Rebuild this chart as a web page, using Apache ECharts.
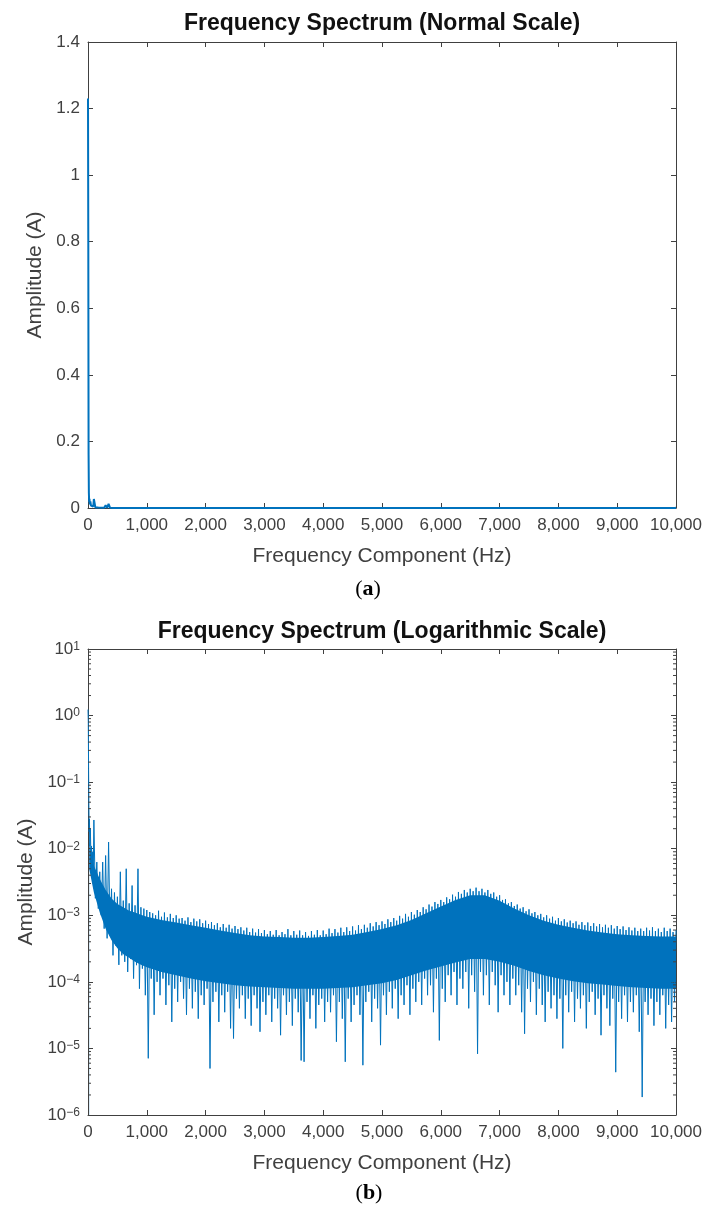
<!DOCTYPE html>
<html>
<head>
<meta charset="utf-8">
<script src="https://cdn.jsdelivr.net/npm/echarts@6/dist/echarts.min.js"></script>
<style>
  html, body { margin: 0; padding: 0; background: #fff; }
  #chart { width: 705px; height: 1207px; }
</style>
</head>
<body>
<div id="chart"></div>
<script>
// spectrum samples (Hz, A)
const freqHz = [
  0, 5, 10, 15, 20, 25, 30, 40, 50, 60, 70, 80, 90,
  100, 125, 150, 175, 200, 225, 250, 275, 300, 325, 350, 375, 400, 425, 450, 475, 500, 525, 550, 575,
  600, 625, 650, 675, 700, 725, 750, 775, 800, 825, 850, 875, 900, 925, 950, 975, 1000, 1025, 1050, 1075,
  1100, 1125, 1150, 1175, 1200, 1225, 1250, 1275, 1300, 1325, 1350, 1375, 1400, 1425, 1450, 1475, 1500, 1525, 1550, 1575,
  1600, 1625, 1650, 1675, 1700, 1725, 1750, 1775, 1800, 1825, 1850, 1875, 1900, 1925, 1950, 1975, 2000, 2025, 2050, 2075,
  2100, 2125, 2150, 2175, 2200, 2225, 2250, 2275, 2300, 2325, 2350, 2375, 2400, 2425, 2450, 2475, 2500, 2525, 2550, 2575,
  2600, 2625, 2650, 2675, 2700, 2725, 2750, 2775, 2800, 2825, 2850, 2875, 2900, 2925, 2950, 2975, 3000, 3025, 3050, 3075,
  3100, 3125, 3150, 3175, 3200, 3225, 3250, 3275, 3300, 3325, 3350, 3375, 3400, 3425, 3450, 3475, 3500, 3525, 3550, 3575,
  3600, 3625, 3650, 3675, 3700, 3725, 3750, 3775, 3800, 3825, 3850, 3875, 3900, 3925, 3950, 3975, 4000, 4025, 4050, 4075,
  4100, 4125, 4150, 4175, 4200, 4225, 4250, 4275, 4300, 4325, 4350, 4375, 4400, 4425, 4450, 4475, 4500, 4525, 4550, 4575,
  4600, 4625, 4650, 4675, 4700, 4725, 4750, 4775, 4800, 4825, 4850, 4875, 4900, 4925, 4950, 4975, 5000, 5025, 5050, 5075,
  5100, 5125, 5150, 5175, 5200, 5225, 5250, 5275, 5300, 5325, 5350, 5375, 5400, 5425, 5450, 5475, 5500, 5525, 5550, 5575,
  5600, 5625, 5650, 5675, 5700, 5725, 5750, 5775, 5800, 5825, 5850, 5875, 5900, 5925, 5950, 5975, 6000, 6025, 6050, 6075,
  6100, 6125, 6150, 6175, 6200, 6225, 6250, 6275, 6300, 6325, 6350, 6375, 6400, 6425, 6450, 6475, 6500, 6525, 6550, 6575,
  6600, 6625, 6650, 6675, 6700, 6725, 6750, 6775, 6800, 6825, 6850, 6875, 6900, 6925, 6950, 6975, 7000, 7025, 7050, 7075,
  7100, 7125, 7150, 7175, 7200, 7225, 7250, 7275, 7300, 7325, 7350, 7375, 7400, 7425, 7450, 7475, 7500, 7525, 7550, 7575,
  7600, 7625, 7650, 7675, 7700, 7725, 7750, 7775, 7800, 7825, 7850, 7875, 7900, 7925, 7950, 7975, 8000, 8025, 8050, 8075,
  8100, 8125, 8150, 8175, 8200, 8225, 8250, 8275, 8300, 8325, 8350, 8375, 8400, 8425, 8450, 8475, 8500, 8525, 8550, 8575,
  8600, 8625, 8650, 8675, 8700, 8725, 8750, 8775, 8800, 8825, 8850, 8875, 8900, 8925, 8950, 8975, 9000, 9025, 9050, 9075,
  9100, 9125, 9150, 9175, 9200, 9225, 9250, 9275, 9300, 9325, 9350, 9375, 9400, 9425, 9450, 9475, 9500, 9525, 9550, 9575,
  9600, 9625, 9650, 9675, 9700, 9725, 9750, 9775, 9800, 9825, 9850, 9875, 9900, 9925, 9950, 9975, 10000
];
const ampA = [
  1.23, 0.81, 0.16, 0.045, 0.018, 0.028, 0.011, 0.02, 0.0075, 0.011, 0.0055, 0.009, 0.0045,
  2.7e-2, 1.8e-3, 6.3e-3, 1.26e-3, 4.5e-3, 1.0e-3, 6.3e-3, 6.3e-4, 7.9e-3, 4.5e-4, 1.26e-2, 5.0e-4, 2.5e-3, 2.5e-4, 2.2e-3, 3.5e-4, 1.9e-3, 1.8e-4, 4.5e-3, 2.5e-4,
  1.66e-3, 2.0e-4, 5.0e-3, 1.41e-4, 1.51e-3, 2.2e-4, 2.8e-3, 1.12e-4, 1.41e-3, 1.78e-4, 5.0e-3, 7.9e-5, 1.32e-3, 1.58e-4, 1.26e-3, 6.3e-5, 1.2e-3, 7.1e-6, 1.12e-3, 1.12e-4,
  1.07e-3, 3.2e-5, 1.0e-3, 1.0e-4, 1.17e-3, 6.3e-5, 9.5e-4, 1.12e-4, 1.1e-3, 4.5e-5, 9.3e-4, 8.9e-5, 1.05e-3, 2.5e-5, 9.1e-4, 7.9e-5, 1.0e-3, 5.0e-5, 8.9e-4, 1.0e-4,
  9.1e-4, 5.6e-5, 8.3e-4, 3.2e-5, 9.3e-4, 7.9e-5, 7.9e-4, 4.0e-5, 8.9e-4, 7.1e-5, 8.1e-4, 2.8e-5, 8.7e-4, 6.3e-5, 7.6e-4, 4.5e-5, 8.3e-4, 7.9e-5, 7.4e-4, 5.0e-6,
  7.9e-4, 5.0e-5, 7.1e-4, 7.1e-5, 7.6e-4, 2.5e-5, 6.6e-4, 6.3e-5, 7.4e-4, 3.5e-5, 6.5e-4, 7.1e-5, 7.2e-4, 2.0e-5, 6.3e-4, 1.41e-5, 6.9e-4, 5.6e-5, 6.2e-4, 4.0e-5,
  6.6e-4, 6.3e-5, 5.9e-4, 2.8e-5, 6.5e-4, 5.6e-5, 5.6e-4, 2.2e-5, 6.3e-4, 6.3e-5, 5.5e-4, 4.0e-5, 6.2e-4, 1.78e-5, 5.4e-4, 5.0e-5, 6.0e-4, 3.2e-5, 5.2e-4, 6.3e-5,
  5.8e-4, 2.5e-5, 5.1e-4, 5.6e-5, 6.0e-4, 4.0e-5, 5.0e-4, 1.58e-5, 5.6e-4, 6.3e-5, 5.2e-4, 3.2e-5, 6.2e-4, 5.0e-5, 5.0e-4, 2.2e-5, 5.8e-4, 5.6e-5, 5.1e-4, 3.5e-5,
  5.9e-4, 6.6e-6, 5.0e-4, 6.3e-6, 5.6e-4, 5.0e-5, 4.9e-4, 2.8e-5, 5.8e-4, 6.3e-5, 5.1e-4, 2.0e-5, 6.0e-4, 4.5e-5, 5.0e-4, 5.6e-5, 5.9e-4, 2.5e-5, 5.2e-4, 5.0e-5,
  6.3e-4, 3.5e-5, 5.4e-4, 6.3e-5, 6.2e-4, 1.26e-5, 5.5e-4, 5.0e-5, 6.5e-4, 2.8e-5, 5.6e-4, 6.3e-6, 6.6e-4, 5.6e-5, 5.8e-4, 2.5e-5, 6.8e-4, 4.5e-5, 5.9e-4, 6.3e-5,
  7.1e-4, 3.2e-5, 6.2e-4, 5.6e-6, 7.2e-4, 5.0e-5, 6.5e-4, 7.1e-5, 7.6e-4, 2.5e-5, 6.8e-4, 5.6e-5, 7.9e-4, 4.0e-5, 7.1e-4, 1.12e-5, 8.1e-4, 6.3e-5, 7.4e-4, 3.2e-5,
  8.7e-4, 7.1e-5, 7.9e-4, 4.0e-5, 9.1e-4, 7.9e-5, 8.3e-4, 2.8e-5, 9.8e-4, 6.3e-5, 8.9e-4, 4.5e-5, 1.05e-3, 8.9e-5, 9.5e-4, 3.2e-5, 1.12e-3, 7.9e-5, 1.02e-3, 5.0e-5,
  1.2e-3, 1.0e-4, 1.12e-3, 4.5e-5, 1.32e-3, 1.12e-4, 1.23e-3, 6.3e-5, 1.45e-3, 8.9e-5, 1.35e-3, 3.5e-5, 1.58e-3, 1.12e-4, 1.48e-3, 1.32e-5, 1.7e-3, 7.9e-5, 1.58e-3, 5.0e-5,
  1.86e-3, 1.26e-4, 1.74e-3, 6.3e-5, 2.04e-3, 1.41e-4, 1.9e-3, 4.5e-5, 2.24e-3, 1.12e-4, 2.1e-3, 7.9e-5, 2.4e-3, 1.41e-4, 2.2e-3, 4.0e-5, 2.5e-3, 1.26e-4, 2.3e-3, 7.1e-5,
  2.6e-3, 8.3e-6, 2.3e-3, 1.41e-4, 2.5e-3, 6.3e-5, 2.2e-3, 1.26e-4, 2.4e-3, 4.5e-5, 2.1e-3, 1.41e-4, 2.2e-3, 8.9e-5, 1.9e-3, 3.5e-5, 2.0e-3, 1.26e-4, 1.7e-3, 6.3e-5,
  1.74e-3, 1.0e-4, 1.51e-3, 4.5e-5, 1.58e-3, 1.12e-4, 1.38e-3, 6.3e-5, 1.45e-3, 8.9e-5, 1.26e-3, 3.5e-5, 1.32e-3, 1.66e-5, 1.15e-3, 7.9e-5, 1.23e-3, 5.0e-5, 1.07e-3, 1.0e-4,
  1.12e-3, 3.2e-5, 1.0e-3, 7.9e-5, 1.05e-3, 4.5e-5, 9.3e-4, 2.5e-5, 1.0e-3, 7.1e-5, 8.9e-4, 4.0e-5, 9.5e-4, 6.3e-5, 8.3e-4, 2.8e-5, 9.1e-4, 5.6e-5, 8.1e-4, 1.0e-5,
  8.7e-4, 6.3e-5, 7.8e-4, 3.5e-5, 8.3e-4, 7.1e-5, 7.6e-4, 2.5e-5, 8.1e-4, 5.6e-5, 7.2e-4, 4.0e-5, 7.9e-4, 6.3e-5, 7.1e-4, 2.0e-5, 7.8e-4, 5.0e-5, 6.9e-4, 7.1e-5,
  7.6e-4, 3.2e-5, 6.8e-4, 5.6e-5, 7.4e-4, 1.58e-5, 6.6e-4, 6.3e-5, 7.2e-4, 4.0e-5, 6.5e-4, 2.2e-5, 7.1e-4, 5.6e-5, 6.3e-4, 4.4e-6, 6.9e-4, 5.0e-5, 6.2e-4, 2.8e-5,
  6.8e-4, 6.3e-5, 6.0e-4, 2.5e-5, 6.6e-4, 5.0e-5, 5.9e-4, 3.5e-5, 6.5e-4, 6.3e-5, 5.8e-4, 1.78e-5, 6.3e-4, 1.86e-6, 5.8e-4, 5.0e-5, 6.5e-4, 3.2e-5, 5.9e-4, 5.6e-5,
  6.6e-4, 2.2e-5, 5.8e-4, 5.0e-5, 6.3e-4, 3.2e-5, 5.6e-4, 6.3e-5, 6.5e-4, 2.0e-5, 5.8e-4, 4.5e-5, 6.3e-4, 2.5e-5, 5.6e-4, 5.0e-5, 6.0e-4
];

// solid core of the noise band on the log plot (upper / lower edge)
const bandFreq = [
  20, 100, 200, 300, 400, 500, 600, 700, 800, 900, 1000,
  1250, 1500, 1750, 2000, 2250, 2500, 2750, 3000, 3250, 3500, 3750, 4000, 4250, 4500, 4750, 5000,
  5250, 5500, 5750, 6000, 6250, 6500, 6750, 7000, 7250, 7500, 7750, 8000, 8250, 8500, 8750, 9000, 9250, 9500, 9750, 10000
];
const bandTop = [
  1.26e-2, 5.6e-3, 3.5e-3, 2.4e-3, 1.78e-3, 1.48e-3, 1.32e-3, 1.17e-3, 1.1e-3, 1.02e-3, 9.5e-4,
  8.5e-4, 7.8e-4, 7.1e-4, 6.5e-4, 5.9e-4, 5.4e-4, 5.0e-4, 4.8e-4, 4.7e-4, 4.6e-4, 4.6e-4, 4.7e-4, 4.9e-4, 5.1e-4, 5.6e-4, 6.2e-4,
  7.1e-4, 8.5e-4, 1.07e-3, 1.35e-3, 1.7e-3, 2.0e-3, 2.0e-3, 1.66e-3, 1.26e-3, 1.0e-3, 8.3e-4, 7.2e-4, 6.5e-4, 5.9e-4, 5.5e-4, 5.2e-4, 5.0e-4, 4.9e-4, 4.8e-4, 4.8e-4
];
const bandBottom = [
  5.0e-3, 2.2e-3, 1.1e-3, 6.3e-4, 4.2e-4, 3.2e-4, 2.6e-4, 2.3e-4, 2.0e-4, 1.8e-4, 1.66e-4,
  1.41e-4, 1.26e-4, 1.12e-4, 1.02e-4, 9.5e-5, 8.9e-5, 8.5e-5, 8.3e-5, 8.1e-5, 7.9e-5, 7.9e-5, 7.9e-5, 8.1e-5, 8.3e-5, 8.9e-5, 9.5e-5,
  1.07e-4, 1.26e-4, 1.48e-4, 1.7e-4, 1.95e-4, 2.2e-4, 2.2e-4, 2.0e-4, 1.74e-4, 1.45e-4, 1.26e-4, 1.12e-4, 1.02e-4, 9.5e-5, 9.1e-5, 8.7e-5, 8.3e-5, 8.1e-5, 7.9e-5, 7.9e-5
];

// minor ticks of the log axis
const minorTicks = [
  2e-6, 3e-6, 4e-6, 5e-6, 6e-6, 7e-6, 8e-6, 9e-6,
  2e-5, 3e-5, 4e-5, 5e-5, 6e-5, 7e-5, 8e-5, 9e-5,
  2e-4, 3e-4, 4e-4, 5e-4, 6e-4, 7e-4, 8e-4, 9e-4,
  2e-3, 3e-3, 4e-3, 5e-3, 6e-3, 7e-3, 8e-3, 9e-3,
  0.02, 0.03, 0.04, 0.05, 0.06, 0.07, 0.08, 0.09,
  0.2, 0.3, 0.4, 0.5, 0.6, 0.7, 0.8, 0.9,
  2, 3, 4, 5, 6, 7, 8, 9
];

const FONT = '"Liberation Sans", Arial, Helvetica, sans-serif';
const SERIF = '"Liberation Serif", "Times New Roman", serif';
const AXIS = '#404040';
const BLUE = '#0072BD';

const spectrum = freqHz.map((f, i) => [f, ampA[i]]);

const xAxisCommon = (gridIndex, position) => ({
  type: 'value',
  gridIndex,
  position,
  min: 0,
  max: 10000,
  interval: 1000,
  z: 3,
  axisLine: { show: true, onZero: false, lineStyle: { color: AXIS, width: 1 } },
  axisTick: { show: true, inside: true, length: 5, lineStyle: { color: AXIS } },
  splitLine: { show: false },
  axisLabel: position === 'bottom'
    ? { show: true, margin: 9, color: AXIS, fontSize: 17, fontFamily: FONT, formatter: (v) => v.toLocaleString('en-US') }
    : { show: false },
  name: position === 'bottom' ? 'Frequency Component (Hz)' : '',
  nameLocation: 'middle',
  nameGap: 38,
  nameTextStyle: { color: AXIS, fontSize: 21, fontFamily: FONT }
});

const yAxisCommon = (gridIndex, position, type) => ({
  type,
  gridIndex,
  position,
  z: 3,
  axisLine: { show: true, onZero: false, lineStyle: { color: AXIS } },
  axisTick: { show: true, inside: true, length: 5, lineStyle: { color: AXIS } },
  splitLine: { show: false },
  name: position === 'left' ? 'Amplitude (A)' : '',
  nameLocation: 'middle',
  nameGap: 40,
  nameTextStyle: { color: AXIS, fontSize: 21, fontFamily: FONT }
});

const logLabel = {
  show: true,
  margin: 8,
  formatter: (v) => {
    const e = Math.round(Math.log10(v));
    return `{b|10}{s|${e < 0 ? '\u2212' + -e : e}}`;
  },
  rich: {
    b: { fontSize: 17, fontFamily: FONT, color: AXIS, lineHeight: 17, verticalAlign: 'bottom' },
    s: { fontSize: 12, fontFamily: FONT, color: AXIS, lineHeight: 12, verticalAlign: 'top', padding: [0, 0, 10, 0] }
  }
};

const chart = echarts.init(document.getElementById('chart'), null, { renderer: 'canvas' });

chart.setOption({
  animation: false,
  backgroundColor: '#ffffff',
  grid: [
    { left: 88, top: 42, width: 588, height: 466, containLabel: false, outerBoundsMode: 'none' },
    { left: 88, top: 649, width: 588, height: 466, containLabel: false, outerBoundsMode: 'none' }
  ],
  xAxis: [
    xAxisCommon(0, 'bottom'),
    xAxisCommon(0, 'top'),
    xAxisCommon(1, 'bottom'),
    xAxisCommon(1, 'top')
  ],
  yAxis: [
    { ...yAxisCommon(0, 'left', 'value'), min: 0, max: 1.4, interval: 0.2,
      axisLabel: { show: true, margin: 8, color: AXIS, fontSize: 17, fontFamily: FONT } },
    { ...yAxisCommon(0, 'right', 'value'), min: 0, max: 1.4, interval: 0.2, axisLabel: { show: false } },
    { ...yAxisCommon(1, 'left', 'log'), logBase: 10, min: 1e-6, max: 10, splitNumber: 7, axisLabel: logLabel },
    { ...yAxisCommon(1, 'right', 'log'), logBase: 10, min: 1e-6, max: 10, splitNumber: 7, axisLabel: { show: false } }
  ],
  series: [
    {
      // same samples on the linear panel: only the DC spike stands out
      type: 'line', xAxisIndex: 0, yAxisIndex: 0, data: spectrum, silent: true,
      showSymbol: false, z: 4, lineStyle: { color: BLUE, width: 2 }
    },
    {
      type: 'line', xAxisIndex: 2, yAxisIndex: 2, silent: true, z: 1,
      data: bandFreq.map((f, i) => [f, bandTop[i]]),
      showSymbol: false, lineStyle: { width: 0, opacity: 0 },
      areaStyle: { color: BLUE, opacity: 1, origin: 'start' }
    },
    {
      type: 'line', xAxisIndex: 2, yAxisIndex: 2, silent: true, z: 2,
      data: bandFreq.map((f, i) => [f, bandBottom[i]]),
      showSymbol: false, lineStyle: { width: 0, opacity: 0 },
      areaStyle: { color: '#ffffff', opacity: 1, origin: 'start' }
    },
    {
      type: 'line', xAxisIndex: 2, yAxisIndex: 2, data: spectrum, silent: true,
      showSymbol: false, z: 4, lineStyle: { color: BLUE, width: 1 }
    },
    {
      type: 'custom', xAxisIndex: 2, yAxisIndex: 2, silent: true, z: 5,
      data: minorTicks.map((v) => [0, v]),
      renderItem: (params, api) => {
        const v = api.value(1);
        const l = api.coord([0, v]);
        const r = api.coord([10000, v]);
        const st = { stroke: AXIS, lineWidth: 1 };
        return {
          type: 'group',
          children: [
            { type: 'line', shape: { x1: l[0], y1: l[1], x2: l[0] + 3, y2: l[1] }, style: st },
            { type: 'line', shape: { x1: r[0] - 3, y1: r[1], x2: r[0], y2: r[1] }, style: st }
          ]
        };
      }
    }
  ],
  graphic: [
    { type: 'text', x: 382, y: 24, style: { text: 'Frequency Spectrum (Normal Scale)', font: `bold 23px ${FONT}`, fill: '#111', textAlign: 'center', textVerticalAlign: 'middle' } },
    { type: 'text', x: 382, y: 632, style: { text: 'Frequency Spectrum (Logarithmic Scale)', font: `bold 23px ${FONT}`, fill: '#111', textAlign: 'center', textVerticalAlign: 'middle' } },
    { type: 'text', x: 368, y: 589, style: { text: '({b|a})', font: `22px ${SERIF}`, fill: '#000', textAlign: 'center', textVerticalAlign: 'middle', rich: { b: { fontWeight: 'bold', fontSize: 22, fontFamily: SERIF } } } },
    { type: 'text', x: 369, y: 1193, style: { text: '({b|b})', font: `22px ${SERIF}`, fill: '#000', textAlign: 'center', textVerticalAlign: 'middle', rich: { b: { fontWeight: 'bold', fontSize: 22, fontFamily: SERIF } } } }
  ]
});
</script>
</body>
</html>
